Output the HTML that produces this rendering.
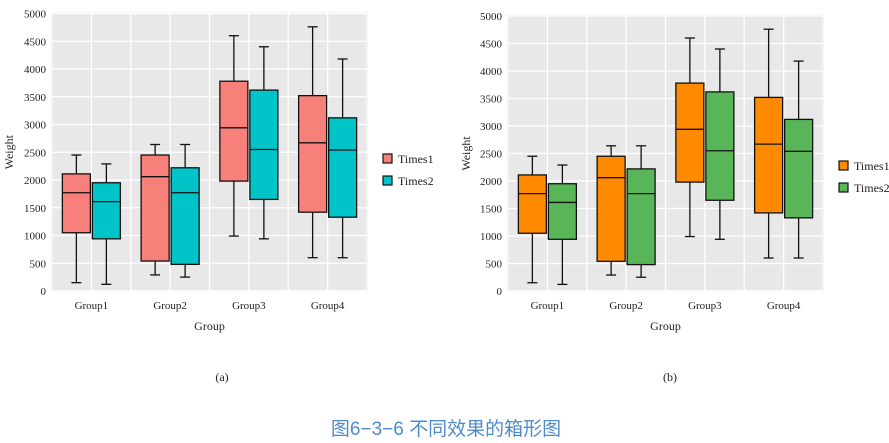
<!DOCTYPE html>
<html><head><meta charset="utf-8">
<style>
html,body{margin:0;padding:0;background:#fff;width:889px;height:443px;overflow:hidden}
svg{display:block}
text{font-family:"Liberation Serif","Noto Serif CJK SC",serif;fill:#222}
</style></head>
<body>
<svg id="fig" width="889" height="443"
     xmlns="http://www.w3.org/2000/svg">
  <text x="222" y="381" font-size="12" text-anchor="middle">(a)</text>
  <text x="670" y="381" font-size="12" text-anchor="middle">(b)</text>
  <text x="446" y="435" font-size="19" text-anchor="middle" style="fill:#4f8bcb;font-family:'Liberation Sans','Noto Sans CJK SC',sans-serif">图6−3−6 不同效果的箱形图</text>
</svg>
<script>
const categories = ["Group1","Group2","Group3","Group4"];
const seriesNames = ["Times1","Times2"];
const t1Min = [150, 290, 990, 600];
const t1Q1  = [1050, 540, 1980, 1420];
const t1Med = [1770, 2060, 2940, 2670];
const t1Q3  = [2110, 2450, 3780, 3520];
const t1Max = [2450, 2640, 4600, 4760];
const t2Min = [120, 250, 940, 600];
const t2Q1  = [940, 480, 1650, 1330];
const t2Med = [1610, 1770, 2550, 2540];
const t2Q3  = [1950, 2220, 3620, 3120];
const t2Max = [2290, 2640, 4400, 4180];
const yTicks = [0,500,1000,1500,2000,2500,3000,3500,4000,4500,5000];

const NS = "http://www.w3.org/2000/svg";
const svg = document.getElementById('fig');
function mk(tag, attrs, parent){
  const e = document.createElementNS(NS, tag);
  for (const k in attrs) e.setAttribute(k, attrs[k]);
  (parent||svg).appendChild(e); return e;
}

function drawChart(cfg){
  const g = mk('g', {});
  
  
  const {x0,x1,yTop,yBot} = cfg;
  const ymax = 5000;
  const Y = v => yBot - (v/ymax)*(yBot-yTop);
  const step = (x1-x0)/categories.length;
  const X = i => x0 + step*(i+0.5);
  const bg = mk('rect', {x:x0, y:yTop-1, width:x1-x0, height:yBot-yTop+1, fill:'#e8e8e8', stroke:'#f4f4f4', 'stroke-width':2}, g);
  
  
  // grid
  yTicks.forEach(v=>{
    const l = mk('line', {x1:x0, x2:x1, y1:Y(v), y2:Y(v), stroke:'#fff', 'stroke-width':1.3}, g);
    
    
    const t = mk('text', {x:x0-6, y:Y(v)+4, 'font-size':11, 'text-anchor':'end'}, g);
    t.textContent = v;
    
    
  });
  for (let i=0;i<=categories.length;i++){
    const xm = x0 + step*i;
    if (i>0 && i<categories.length){
      const l = mk('line', {x1:xm, x2:xm, y1:yTop, y2:yBot, stroke:'#fff', 'stroke-width':1.3}, g);
      
      
    }
  }
  categories.forEach((c,i)=>{
    const l = mk('line', {x1:X(i), x2:X(i), y1:yTop, y2:yBot, stroke:'#fff', 'stroke-width':1.3}, g);
    
    
    const t = mk('text', {x:X(i), y:yBot+18, 'font-size':11, 'text-anchor':'middle'}, g);
    t.textContent = c;
    
    
  });
  const series = [
    [t1Min,t1Q1,t1Med,t1Q3,t1Max],
    [t2Min,t2Q1,t2Med,t2Q3,t2Max]
  ];
  const bw = 28, off = 15;
  series.forEach((s,si)=>{
    categories.forEach((c,i)=>{
      const cx = X(i) + (si===0?-off:off);
      const bx = mk('g', {}, g);
      
      
      const sw = {stroke:'#111','stroke-width':1.3};
      mk('line', Object.assign({x1:cx,x2:cx,y1:Y(s[4][i]),y2:Y(s[3][i])},sw), bx);
      mk('line', Object.assign({x1:cx,x2:cx,y1:Y(s[1][i]),y2:Y(s[0][i])},sw), bx);
      mk('line', Object.assign({x1:cx-5,x2:cx+5,y1:Y(s[4][i]),y2:Y(s[4][i])},sw), bx);
      mk('line', Object.assign({x1:cx-5,x2:cx+5,y1:Y(s[0][i]),y2:Y(s[0][i])},sw), bx);
      mk('rect', Object.assign({x:cx-bw/2, y:Y(s[3][i]), width:bw, height:Y(s[1][i])-Y(s[3][i]), fill:cfg.colors[si]},sw), bx);
      mk('line', Object.assign({x1:cx-bw/2,x2:cx+bw/2,y1:Y(s[2][i]),y2:Y(s[2][i])},sw), bx);
    });
  });
  const xt = mk('text', {x:(x0+x1)/2, y:yBot+39, 'font-size':12, 'text-anchor':'middle'}, g);
  xt.textContent = 'Group';
  
  
  const yt = mk('text', {x:0, y:0, 'font-size':12, 'text-anchor':'middle', transform:`translate(${cfg.yTitleX},${(yTop+yBot)/2}) rotate(-90)`}, g);
  yt.textContent = 'Weight';
  
  
  seriesNames.forEach((n,si)=>{
    const le = mk('g', {}, g);
    
    
    const ly = cfg.legY + si*22;
    mk('rect', {x:cfg.legX, y:ly, width:9, height:9, fill:cfg.colors[si], stroke:'#111','stroke-width':1.2}, le);
    const t = mk('text', {x:cfg.legX+15, y:ly+9, 'font-size':12}, le);
    t.textContent = n;
  });
}

drawChart({id:'a', x0:52, x1:367, yTop:13.5, yBot:291, colors:['#f8807a','#00c4c8'], yTitleX:13, legX:383, legY:154});
drawChart({id:'b', x0:508, x1:823, yTop:16, yBot:291, colors:['#ff8a00','#58b658'], yTitleX:470, legX:839, legY:161});
</script>
</body></html>
